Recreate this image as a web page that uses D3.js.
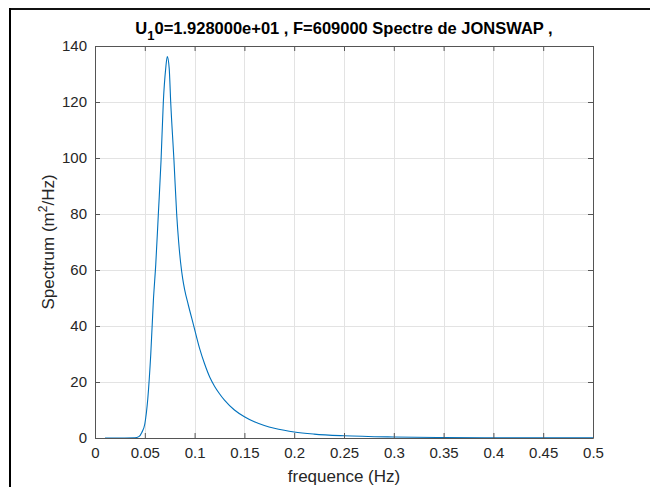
<!DOCTYPE html>
<html>
<head>
<meta charset="utf-8">
<script src="https://cdn.jsdelivr.net/npm/d3@7"></script>
<style>
  html, body { margin: 0; padding: 0; background: #fff; }
  svg { display: block; }
  text { font-family: "Liberation Sans", Arial, sans-serif; }
</style>
</head>
<body>
<svg id="chart" width="650" height="487"></svg>
<script>
// Data
const freq = [0.010, 0.030, 0.040, 0.044, 0.047, 0.050, 0.053, 0.056, 0.0586, 0.061, 0.0636, 0.0663, 0.0686, 0.071, 0.0726, 0.0745, 0.076, 0.0793, 0.082, 0.084, 0.086, 0.088, 0.090, 0.0937, 0.0988, 0.105, 0.110, 0.1155, 0.120, 0.125, 0.130, 0.140, 0.150, 0.160, 0.170, 0.180, 0.190, 0.200, 0.220, 0.250, 0.300, 0.350, 0.400, 0.450, 0.500];
const spectrum = [0, 0, 0.05, 0.5, 2, 5, 14, 30, 49, 62, 80, 99, 120, 132, 136.2, 132, 120, 99, 80, 70, 62.5, 57, 53, 47.5, 40.5, 32, 26.5, 21.5, 18.5, 15.8, 13.5, 10, 7.6, 5.8, 4.5, 3.5, 2.75, 2.15, 1.4, 0.8, 0.35, 0.17, 0.09, 0.05, 0.03];
const xTicks = [0, 0.05, 0.1, 0.15, 0.2, 0.25, 0.3, 0.35, 0.4, 0.45, 0.5];
const yTicks = [0, 20, 40, 60, 80, 100, 120, 140];

const svg = d3.select("#chart");
const L = 95, R = 593, T = 46, B = 438;
const x = d3.scaleLinear().domain([0, 0.5]).range([L, R]);
const y = d3.scaleLinear().domain([0, 140]).range([B, T]);

// figure border (screenshot frame)
svg.append("line").attr("x1", 10).attr("x2", 650).attr("y1", 9).attr("y2", 9)
  .attr("stroke", "#111").attr("stroke-width", 2);
svg.append("line").attr("x1", 10).attr("x2", 10).attr("y1", 8).attr("y2", 487)
  .attr("stroke", "#000").attr("stroke-width", 2);

// grid
const grid = svg.append("g");
grid.selectAll(".gx").data(xTicks.slice(1, -1)).enter().append("line")
  .attr("x1", d => Math.round(x(d)) + 0.5).attr("x2", d => Math.round(x(d)) + 0.5)
  .attr("y1", T).attr("y2", B).attr("stroke", "#e3e3e3").attr("stroke-width", 1);
grid.selectAll(".gy").data(yTicks.slice(1, -1)).enter().append("line")
  .attr("y1", d => Math.round(y(d)) + 0.5).attr("y2", d => Math.round(y(d)) + 0.5)
  .attr("x1", L).attr("x2", R).attr("stroke", "#e3e3e3").attr("stroke-width", 1);

// curve
const line = d3.line().x((d, i) => x(freq[i])).y(d => y(d)).curve(d3.curveMonotoneX);
svg.append("path").datum(spectrum).attr("d", line)
  .attr("fill", "none").attr("stroke", "#0072BD").attr("stroke-width", 1.1);

// axes
const axB = d3.axisBottom(x).tickValues(xTicks).tickSizeInner(-5).tickSizeOuter(0).tickPadding(9).tickFormat(d => String(+d.toFixed(2)));
const axT = d3.axisTop(x).tickValues(xTicks).tickSizeInner(-5).tickSizeOuter(0).tickFormat("");
const axL = d3.axisLeft(y).tickValues(yTicks).tickSizeInner(-5).tickSizeOuter(0).tickPadding(8).tickFormat(d => String(d));
const axR = d3.axisRight(y).tickValues(yTicks).tickSizeInner(-5).tickSizeOuter(0).tickFormat("");

function style(g) {
  g.select(".domain").attr("stroke", "#555");
  g.selectAll(".tick line").attr("stroke", "#555");
  g.selectAll("text").attr("fill", "#262626").style("font-size", "15px")
    .style("font-family", '"Liberation Sans", Arial, sans-serif');
}
svg.append("g").attr("transform", `translate(0,${B})`).call(axB).call(style);
svg.append("g").attr("transform", `translate(0,${T})`).call(axT).call(style);
svg.append("g").attr("transform", `translate(${L},0)`).call(axL).call(style);
svg.append("g").attr("transform", `translate(${R},0)`).call(axR).call(style);

// title
const title = svg.append("text").attr("x", (L + R) / 2).attr("y", 34)
  .attr("text-anchor", "middle").attr("fill", "#000")
  .style("font-size", "16.5px").style("font-weight", "bold");
title.append("tspan").text("U");
title.append("tspan").attr("dy", 6).style("font-size", "13px").text("1");
title.append("tspan").attr("dy", -6).text("0=1.928000e+01 , F=609000 Spectre de JONSWAP ,");

// x label
svg.append("text").attr("x", (L + R) / 2).attr("y", 482).attr("text-anchor", "middle")
  .attr("fill", "#262626").style("font-size", "17px").text("frequence (Hz)");

// y label
const yl = svg.append("text").attr("transform", `translate(54,${(T + B) / 2}) rotate(-90)`)
  .attr("text-anchor", "middle").attr("fill", "#262626").style("font-size", "17px");
yl.append("tspan").text("Spectrum (m");
yl.append("tspan").attr("dy", -7).style("font-size", "12px").text("2");
yl.append("tspan").attr("dy", 7).text("/Hz)");
</script>
</body>
</html>
